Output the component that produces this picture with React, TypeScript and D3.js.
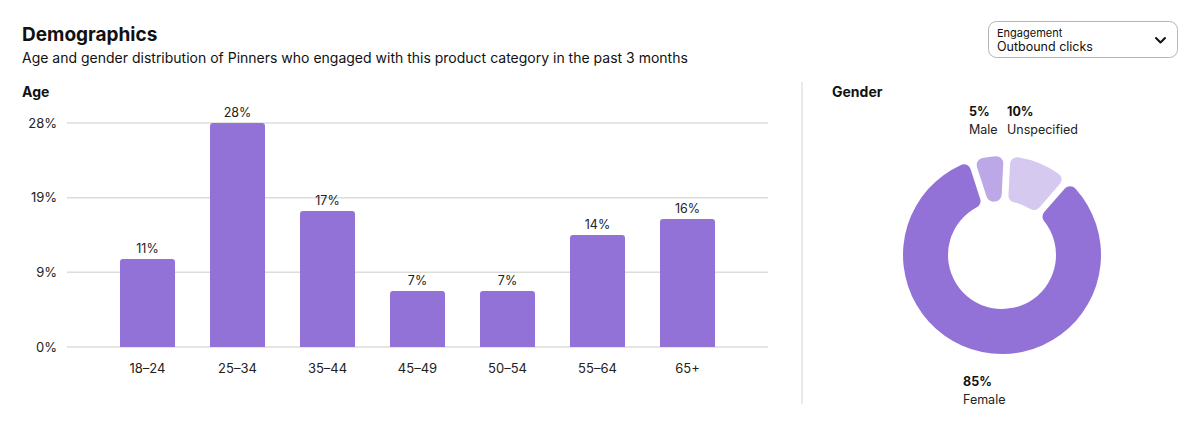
import React from 'react';
import * as d3 from 'd3';

const width = 1200;
const height = 426;

// age distribution
const ageGroups = ['18\u201324', '25\u201334', '35\u201344', '45\u201349', '50\u201354', '55\u201364', '65+'];
const ageShares = [11, 28, 17, 7, 7, 14, 16];
const ageMax = 28;

// gender distribution (drawn clockwise from just left of 12 o'clock)
const genderNames = ['Male', 'Unspecified', 'Female'];
const genderShares = [5, 10, 85];
const genderColors = ['#bca8e6', '#d5c9f0', '#9372d7'];

const font = 'Inter, "Noto Sans", sans-serif';
const barColor = '#9372d7';
const textColor = '#111';

const barMargin = { top: 123, left: 67, right: 432, bottom: 79 };

const App = () => {
  const x = d3.scaleBand<string>()
    .domain(ageGroups)
    .range([barMargin.left, width - barMargin.right])
    .paddingInner(0.389)
    .paddingOuter(0.589);

  const y = d3.scaleLinear()
    .domain([0, ageMax])
    .range([height - barMargin.bottom, barMargin.top]);

  const yTicks = [0, 1, 2, 3].map(i => (ageMax / 3) * i);

  const pie = d3.pie<number>()
    .sort(null)
    .startAngle(-0.05 * Math.PI * 2)
    .endAngle(0.95 * Math.PI * 2)
    .padAngle(0.06);
  const arcs = pie(genderShares);
  const arc = d3.arc<d3.PieArcDatum<number>>()
    .innerRadius(54)
    .outerRadius(99)
    .cornerRadius(7);
  const cx = 1002;
  const cy = 255;

  const genderLabels = [
    { i: 0, x: 969, y: 116 },
    { i: 1, x: 1007, y: 116 },
    { i: 2, x: 963, y: 386 },
  ];

  return (
    <svg width={width} height={height} style={{ position: 'absolute', left: 0, top: 0 }} fontFamily={font}>
      <rect width={width} height={height} fill="#fff" />

      <text x={22} y={41} fontSize={19} fontWeight={700} fill={textColor}>Demographics</text>
      <text x={22} y={63} fontSize={14} fill={textColor}>
        Age and gender distribution of Pinners who engaged with this product category in the past 3 months
      </text>

      {/* engagement selector */}
      <rect x={988.5} y={21.5} width={189} height={36} rx={8} fill="#fff" stroke="#b5b5b5" />
      <text x={997} y={37} fontSize={11} fill={textColor}>Engagement</text>
      <text x={997} y={51} fontSize={12.5} fill={textColor}>Outbound clicks</text>
      <path d="M1156 38 L1160.5 42.5 L1165 38" fill="none" stroke={textColor} strokeWidth={2} strokeLinecap="round" strokeLinejoin="round" />

      <text x={22} y={97} fontSize={14} fontWeight={700} fill={textColor}>Age</text>

      {yTicks.map(t => (
        <g key={t}>
          <line x1={barMargin.left} x2={width - barMargin.right} y1={y(t)} y2={y(t)} stroke="#dcdcd8" strokeWidth={1.5} />
          <text x={57} y={y(t)} dy="0.35em" textAnchor="end" fontSize={13} fill="#222">
            {`${Math.round(t)}%`}
          </text>
        </g>
      ))}

      {ageGroups.map((g, i) => {
        const bx = x(g) as number;
        const top = y(ageShares[i]);
        const h = y(0) - top;
        const r = 3;
        const w = x.bandwidth();
        const d = `M${bx},${y(0)} V${top + r} Q${bx},${top} ${bx + r},${top} H${bx + w - r} Q${bx + w},${top} ${bx + w},${top + r} V${y(0)} Z`;
        return (
          <g key={g}>
            <path d={h > 0 ? d : ''} fill={barColor} />
            <text x={bx + w / 2} y={top - 6} textAnchor="middle" fontSize={12.5} fill="#222">
              {`${ageShares[i]}%`}
            </text>
            <text x={bx + w / 2} y={373} textAnchor="middle" fontSize={13} fill="#222">{g}</text>
          </g>
        );
      })}

      <line x1={802} x2={802} y1={82} y2={404} stroke="#e2e2de" strokeWidth={1.5} />

      <text x={832} y={97} fontSize={14} fontWeight={700} fill={textColor}>Gender</text>

      <g transform={`translate(${cx},${cy})`}>
        {arcs.map((a, i) => (
          <path key={genderNames[i]} d={arc(a) || ''} fill={genderColors[i]} />
        ))}
      </g>

      {genderLabels.map(l => (
        <g key={genderNames[l.i]}>
          <text x={l.x} y={l.y} fontSize={12.5} fontWeight={700} fill={textColor}>{`${genderShares[l.i]}%`}</text>
          <text x={l.x} y={l.y + 18} fontSize={12.5} fill="#222">{genderNames[l.i]}</text>
        </g>
      ))}
    </svg>
  );
};

export default App;
